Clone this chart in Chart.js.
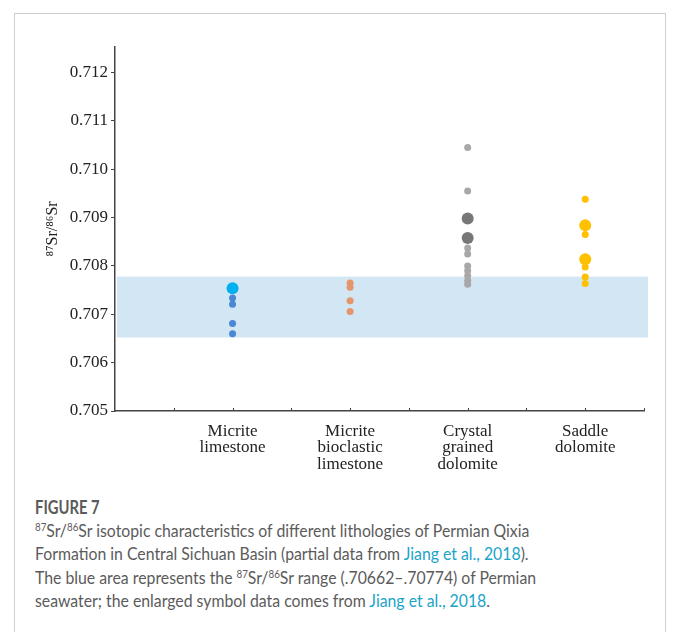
<!DOCTYPE html>
<html>
<head>
<meta charset="utf-8">
<script src="https://cdn.jsdelivr.net/npm/chart.js@4"></script>
<style>
  body { margin: 0; background: #fff; width: 681px; height: 632px; overflow: hidden; position: relative; }
  #card { position: absolute; left: 14px; top: 13px; width: 652px; height: 640px; border: 1px solid #cfcfcf; box-sizing: border-box; }
  #chart-box { position: absolute; left: 14px; top: 13px; width: 653px; height: 470px; }
  #caption { position: absolute; left: 35px; top: 495px; width: 700px; font-family: Lato, "Open Sans", sans-serif; color: #5b5b5b; }
  #caption .fig { font-size: 18.5px; font-weight: bold; line-height: 24px; transform: scaleX(0.8); transform-origin: left top; }
  #caption .body { font-size: 17px; line-height: 23.4px; white-space: nowrap; transform: scaleX(0.93); transform-origin: left top; }
  #caption sup { font-size: 10.5px; line-height: 0; vertical-align: 6px; }
  #caption a { color: #1aa4c8; text-decoration: none; }
</style>
</head>
<body>
<div id="card"></div>
<div id="chart-box"><canvas id="sr-chart" width="653" height="470"></canvas></div>
<div id="caption">
  <div class="fig">FIGURE 7</div>
  <div class="body"><sup>87</sup>Sr/<sup>86</sup>Sr isotopic characteristics of different lithologies of Permian Qixia<br>Formation in Central Sichuan Basin (partial data from <a>Jiang et al., 2018</a>).<br>The blue area represents the <sup>87</sup>Sr/<sup>86</sup>Sr range (.70662–.70774) of Permian<br>seawater; the enlarged symbol data comes from <a>Jiang et al., 2018</a>.</div>
</div>
<script>
// lithology groups, placed at x = 2, 4, 6, 8 on a 0..9 axis
const categories = [
    ['Micrite', 'limestone'],
    ['Micrite', 'bioclastic', 'limestone'],
    ['Crystal', 'grained', 'dolomite'],
    ['Saddle', 'dolomite']
];
const categoryX = [2, 4, 6, 8];
const xTicks = [1, 2, 3, 4, 5, 6, 7, 8, 9];
const yTicks = [0.705, 0.706, 0.707, 0.708, 0.709, 0.710, 0.711, 0.712];

// 87Sr/86Sr values
const micriteSmall = [0.70734, 0.70721, 0.70681, 0.70660];
const micriteLarge = [0.70754];
const bioclasticSmall = [0.70765, 0.70756, 0.70728, 0.70706];
const crystalSmall = [0.71045, 0.70955, 0.70837, 0.70825, 0.70800, 0.70790, 0.70780, 0.70770, 0.70762];
const crystalLarge = [0.70898, 0.70858];
const saddleSmall = [0.70938, 0.70865, 0.70798, 0.70777, 0.70764];
const saddleLarge = [0.70884, 0.70814];

// Permian seawater range (blue band)
const seawaterBand = [0.70652, 0.70778];

const serif = '"Liberation Serif", "Times New Roman", serif';

function pts(x, values) {
    return values.map(v => ({ x: x, y: v }));
}

function series(x, values, color, radius) {
    return {
        data: pts(x, values),
        backgroundColor: color,
        borderColor: color,
        borderWidth: 0,
        pointRadius: radius,
        pointHoverRadius: radius
    };
}

// light blue seawater band drawn behind the points
const bandPlugin = {
    id: 'band',
    beforeDatasetsDraw(chart) {
        const { ctx, chartArea, scales } = chart;
        const yTop = scales.y.getPixelForValue(seawaterBand[1]);
        const yBot = scales.y.getPixelForValue(seawaterBand[0]);
        ctx.save();
        ctx.fillStyle = '#d3e6f4';
        ctx.fillRect(chartArea.left + 2, yTop, chartArea.right - chartArea.left + 2, yBot - yTop);
        ctx.restore();
    }
};

// small inward tick marks on the x axis
const xTickPlugin = {
    id: 'xTicksIn',
    afterDraw(chart) {
        const { ctx, chartArea, scales } = chart;
        ctx.save();
        ctx.strokeStyle = '#444';
        ctx.lineWidth = 1;
        xTicks.forEach(v => {
            const px = Math.round(scales.x.getPixelForValue(v)) + 0.5;
            ctx.beginPath();
            ctx.moveTo(px, chartArea.bottom);
            ctx.lineTo(px, chartArea.bottom - 3);
            ctx.stroke();
        });
        ctx.restore();
    }
};

const ctx = document.getElementById('sr-chart').getContext('2d');
new Chart(ctx, {
    type: 'scatter',
    data: {
        datasets: [
            series(categoryX[0], micriteSmall, '#4a88d6', 3.5),
            series(categoryX[0], micriteLarge, '#02b0ef', 6),
            series(categoryX[1], bioclasticSmall, '#e5956c', 3.5),
            series(categoryX[2], crystalSmall, '#a8a8a8', 3.5),
            series(categoryX[2], crystalLarge, '#777777', 6),
            series(categoryX[3], saddleSmall, '#ffc000', 3.5),
            series(categoryX[3], saddleLarge, '#ffc000', 6)
        ]
    },
    options: {
        responsive: false,
        animation: false,
        layout: { padding: { top: 34, right: 23, left: 0, bottom: 0 } },
        plugins: {
            legend: { display: false },
            tooltip: { enabled: false }
        },
        scales: {
            x: {
                type: 'linear',
                min: 0,
                max: 9,
                afterBuildTicks: scale => { scale.ticks = xTicks.map(v => ({ value: v })); },
                afterFit: scale => { scale.height = 72; },
                grid: { display: true, drawOnChartArea: false, drawTicks: false },
                border: { display: true, color: '#444', width: 1.5 },
                ticks: {
                    padding: 12,
                    maxRotation: 0,
                    autoSkip: false,
                    color: '#222',
                    font: { family: serif, size: 17, lineHeight: 0.97 },
                    callback: v => {
                        const i = categoryX.indexOf(v);
                        return i >= 0 ? categories[i] : '';
                    }
                }
            },
            y: {
                min: 0.705,
                max: 0.71253,
                afterBuildTicks: scale => { scale.ticks = yTicks.map(v => ({ value: v })); },
                afterFit: scale => { scale.width = 101; },
                grid: { display: true, drawOnChartArea: false, drawTicks: true, tickLength: 4, color: '#444' },
                border: { display: true, color: '#444', width: 1.5 },
                ticks: {
                    padding: 3,
                    color: '#222',
                    font: { family: serif, size: 17 },
                    callback: v => v.toFixed(3)
                },
                title: {
                    display: true,
                    text: '⁸⁷Sr/⁸⁶Sr',
                    color: '#222',
                    font: { family: serif, size: 16 },
                    padding: { top: 29, bottom: 0 }
                }
            }
        }
    },
    plugins: [bandPlugin, xTickPlugin]
});
</script>
</body>
</html>
